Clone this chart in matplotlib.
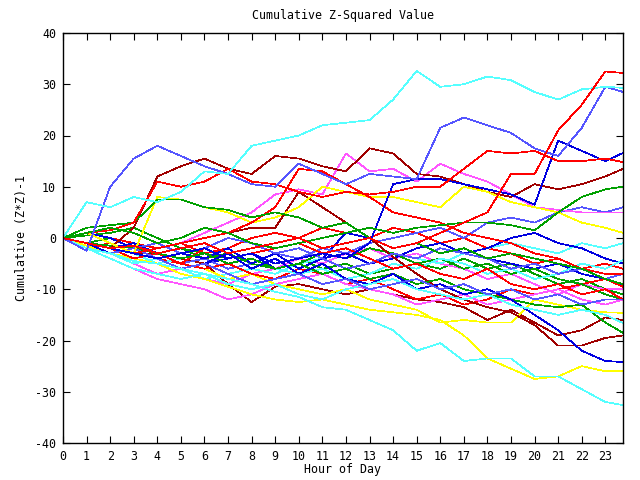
import matplotlib
matplotlib.use("Agg")
import matplotlib.pyplot as plt

hours = [0, 1, 2, 3, 4, 5, 6, 7, 8, 9, 10, 11, 12, 13, 14, 15, 16, 17, 18, 19, 20, 21, 22, 23, 23.75]
x_ticks = list(range(24))
y_ticks = [-40, -30, -20, -10, 0, 10, 20, 30, 40]

# cumulative series, one value per hour
cyan_top   = [0, 7, 6, 8, 7, 9, 13, 12.5, 18, 19, 20, 22, 22.5, 23, 27, 32.6, 29.5, 30, 31.5, 30.8, 28.5, 27, 29, 29.5, 29.3]
lblue_top  = [0, -2.5, 10, 15.5, 18, 16, 14, 12.5, 10.5, 10, 14.5, 12.5, 10.5, 12.5, 12, 11.5, 21.5, 23.5, 22, 20.5, 17.5, 16, 21.5, 29.5, 28.5]
red_top    = [0, -1, -2, -1.5, -3, -2, -1, -3, -2, -1, 0, -2, -1, 0, -2, -1, 1, 3, 5, 12.5, 12.5, 21, 26, 32.5, 32.2]
red_hi     = [0, 1, 1.5, 3, 11, 10, 11, 13.5, 11, 10.5, 9, 8, 9, 8.5, 9, 10, 10, 13.5, 17, 16.5, 17, 15, 15, 15.5, 14.8]
red_mid    = [0, -1, -2, -3, -2, -1, 0, 1, 3, 6, 13.5, 13, 10.5, 8, 5, 4, 3, 1, 0, -1, -3, -4, -6, -7, -7]
dred_hi    = [0, -1, -2, 2, 12, 14, 15.5, 13.5, 12.5, 16, 15.5, 14, 13, 17.5, 16.5, 12.5, 12, 10.5, 9, 8, 10.5, 9.5, 10.5, 12, 13.5]
magenta_hi = [0, -1, -2, -3, -2, -1, 1, 3, 5, 8.5, 9.5, 8.5, 16.5, 13, 13.5, 11, 14.5, 12.5, 11, 8.5, 6, 5.5, 5, 5, 5]
dblue_jump = [0, -1, -2, -3, -4, -3, -2, -4, -3, -5, -4, -3, -4, -1, 10.5, 11.5, 11.5, 10.5, 9.5, 8.5, 6.5, 19, 17, 15, 16.6]
yellow_hi  = [0, 1, -1, -3, 8, 7.5, 6, 5, 3, 4, 6, 10, 9, 8, 8, 7, 6, 10, 9, 7, 6, 5, 3, 2, 1]
green_hi   = [0, 1, 2, 1, -1, 0, 2, 1, -1, -2, -1, 0, 1, 2, 1, 2, 2.5, 3, 3, 2.5, 1.5, 5, 8, 9.5, 10]
green_up   = [0, 2, 2.5, 3, 7.5, 7.5, 6, 5.5, 4, 5, 4, 2, 3, 0, -2, -1, -3, -2, -4, -3, -4, -5, -6, -8, -9]
lblue_a    = [0, -1, -2, -4, -3, -5, -4, -6, -5, -3, -4, -2, -3, -1, 0, 1, 2, 0, 3, 4, 3, 5, 6, 5, 6]
dblue_a    = [0, -1, -2, -1, -3, -4, -5, -4, -3, -6, -5, -4, 1, 0, -2, -1, -3, -2, -4, -5, -6, -5, -7, -8, -9.2]
dblue_b    = [0, 1, 0, -2, -1, -3, -4, -2, -5, -3, -6, -4, -3, -5, -4, -2, -1, -3, -2, 0, 1, -1, -2, -4, -5]
red_a      = [0, 1, 0, -1, -2, -1, -3, -2, 0, 1, 0, 2, 1, 0, 2, 1, -1, 0, -2, -3, -5, -4, -6, -5, -6]
cyan_a     = [0, -1, -3, -5, -4, -6, -8, -7, -6, -7, -5, -4, -6, -5, -3, -4, -5, -3, -2, -1, -2, -3, -1, -2, -1]
green_a    = [0, 0.5, 1, 2, 0, -2, -3, -4, -3, -5, -4, -6, -5, -7, -6, -5, -6, -4, -6, -5, -7, -9, -8, -10, -11]
lblue_b    = [0, -1, -3, -2, -1, -3, -2, 0, -1, -3, -2, -4, -6, -5, -3, -4, -2, -3, -4, -6, -5, -7, -6, -8, -7]
magenta_a  = [0, -2, -3, -5, -7, -6, -8, -9, -7, -6, -4, -5, -3, -2, -4, -3, -5, -6, -8, -7, -9, -11, -9, -10, -10]
cyan_b     = [0, -1, -2, -3, -5, -4, -3, -5, -4, -6, -7, -6, -8, -7, -5, -6, -4, -5, -7, -6, -8, -7, -5, -6, -4.3]
green_b    = [0, -1, 0, -2, -3, -2, -4, -3, -5, -6, -5, -3, -4, -2, -3, -5, -4, -6, -5, -7, -6, -8, -9, -11, -12]
red_b      = [0, -2, -1, -3, -4, -5, -6, -5, -7, -8, -6, -7, -9, -8, -10, -12, -11, -13, -12, -10, -11, -10, -9, -8, -9.5]
red_c      = [0, -1, -2, -4, -3, -5, -2, -4, -3, -2, -1, -3, -2, -4, -6, -5, -7, -8, -6, -9, -10, -9, -11, -10, -12]
lblue_c    = [0, -2, -3, -2, -4, -6, -5, -7, -9, -8, -7, -9, -8, -10, -9, -8, -10, -9, -11, -10, -12, -11, -13, -12, -12]
magenta_lo = [0, -2, -4, -6, -8, -9, -10, -12, -11, -9, -8, -7, -9, -10, -11, -13, -12, -11, -13, -12, -11, -10, -12, -13, -12]
cyan_c     = [0, -2, -4, -6, -7, -8, -7, -9, -10, -9, -11, -12, -10, -9, -8, -10, -11, -12, -11, -13, -14, -15, -14, -15, -16.6]
green_lo   = [0, -1, -1.5, -2, -3, -4, -3, -5, -4, -6, -5, -7, -6, -8, -7, -9, -8, -10, -11, -12, -13, -13.5, -13, -16.5, -18.5]
dred_a     = [0, -1, -2, -3, -3, -4, -5, -9, -12.5, -9.5, -9, -10, -11, -10, -11, -12, -12.5, -13.5, -16, -14, -16.5, -19, -18, -15.5, -16]
dred_b     = [0, -1, -2, -3, -2, -1, 0, 1, 2, 2, 9, 6, 3, 0, -3.7, -7, -10, -12, -13.5, -14.5, -17, -21, -21, -19.5, -19]
dblue_lo   = [0, -1, -3, -2, -4, -6, -5, -3, -6, -4, -7, -5, -8, -9, -7, -10, -9, -11, -10, -12, -15, -18, -22, -24, -24.2]
yellow_a   = [0, -1, -2, -4, -3, -5, -6, -8, -7, -9, -10, -11, -10, -12, -13, -14, -16.5, -16, -16.5, -16.5, -12, -13, -14, -14.5, -14.6]
yellow_lo  = [0, -1.5, -3, -4, -5, -7, -8, -9.5, -11, -12, -12.5, -12, -13, -14, -14.5, -15, -16, -19, -23.5, -25.5, -27.5, -27, -25, -26, -26]
cyan_lo    = [0, -2, -3, -4.5, -5, -6, -7, -8, -9, -10.5, -11.5, -13.5, -14, -16, -18, -22, -20.5, -24, -23.5, -23.5, -27, -27, -29.5, -32, -32.6]

RED, DRED, GREEN, DBLUE = "#ff0000", "#a00000", "#00a000", "#0000e0"
LBLUE, MAG, CYAN, YEL = "#5555ff", "#ff55ff", "#55ffff", "#ffff00"

lines = [
    (red_a, RED), (green_a, GREEN), (dblue_a, DBLUE), (magenta_a, MAG), (cyan_a, CYAN),
    (dred_a, DRED), (lblue_a, LBLUE), (yellow_a, YEL),
    (red_b, RED), (green_b, GREEN), (dblue_b, DBLUE), (magenta_lo, MAG), (cyan_b, CYAN),
    (dred_b, DRED), (lblue_b, LBLUE), (yellow_lo, YEL),
    (red_c, RED), (green_lo, GREEN), (dblue_lo, DBLUE), (magenta_hi, MAG), (cyan_c, CYAN),
    (dred_hi, DRED), (lblue_c, LBLUE), (yellow_hi, YEL),
    (red_mid, RED), (green_up, GREEN), (dblue_jump, DBLUE), (cyan_lo, CYAN),
    (red_hi, RED), (green_hi, GREEN), (lblue_top, LBLUE), (cyan_top, CYAN), (red_top, RED),
]

fig = plt.figure(figsize=(6.4, 4.8), dpi=100)
ax = fig.add_axes([63 / 640, 37 / 480, 560 / 640, 410 / 480])
for ys, col in lines:
    ax.plot(hours, ys, color=col, lw=0.5, antialiased=False)

font = dict(family="DejaVu Sans Mono", size=8.4)
ax.set_xlim(0, 23.75)
ax.set_ylim(-40, 40)
ax.set_xticks(x_ticks)
ax.set_yticks(y_ticks)
ax.set_xticklabels([str(v) for v in x_ticks], fontdict=font)
ax.set_yticklabels([str(v) for v in y_ticks], fontdict=font)
ax.tick_params(direction="in", top=True, right=True, length=5, width=0.8, pad=5)
for s in ax.spines.values():
    s.set_linewidth(1.0)

fig.text(343 / 640, 1 - 15 / 480, "Cumulative Z-Squared Value", ha="center", va="center", **font)
fig.text(343 / 640, 1 - 470 / 480, "Hour of Day", ha="center", va="center", **font)
fig.text(22 / 640, 1 - 238 / 480, "Cumulative (Z*Z)-1", ha="center", va="center", rotation=90, **font)

fig.savefig("out.png", dpi=100)
